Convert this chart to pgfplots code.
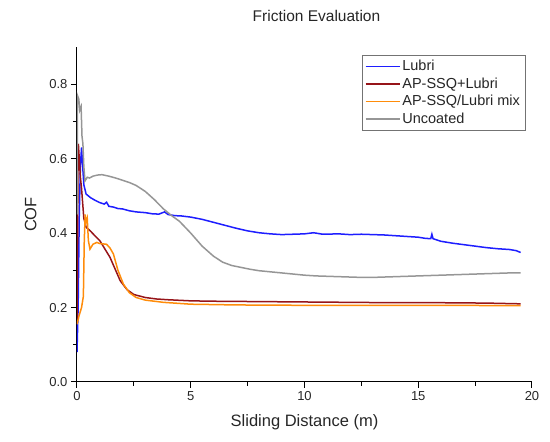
\documentclass[border=0pt]{standalone}
\usepackage{fontspec}
\setmainfont{Liberation Sans}
\usepackage{pgfplots}
\pgfplotsset{compat=1.18}
\definecolor{cblue}{RGB}{30,30,255}
\definecolor{cred}{RGB}{150,20,25}
\definecolor{corange}{RGB}{255,140,10}
\definecolor{cgray}{RGB}{150,150,150}
\begin{document}
\begin{tikzpicture}[x=1pt,y=1pt]
\useasboundingbox (0,0) rectangle (550,442);
\begin{axis}[
  at={(77pt,60pt)}, anchor=south west,
  scale only axis, width=455pt, height=335pt,
  xmin=0, xmax=20, ymin=0, ymax=0.9,
  axis x line=bottom, axis y line=left,
  axis line style={-, line width=1pt},
  xtick={0,5,10,15,20}, ytick={0,0.2,0.4,0.6,0.8},
  minor xtick={2.5,7.5,12.5,17.5}, minor ytick={0.1,0.3,0.5,0.7},
  tick align=outside,
  major tick length=6pt, minor tick length=4pt,
  every tick/.style={black, line width=1pt},
  yticklabel style={/pgf/number format/.cd, fixed, fixed zerofill, precision=1},
  /pgf/number format/assume math mode=true,
  tick label style={font=\fontsize{13}{15}\selectfont, text=black!85},
  xlabel={Sliding Distance (m)}, ylabel={COF},
  label style={font=\fontsize{16.5}{19}\selectfont, text=black!85},
  xlabel style={yshift=-7pt},
  ylabel style={yshift=6pt},
  title={Friction Evaluation},
  title style={font=\fontsize{15.5}{18}\selectfont, text=black!85, yshift=16pt, xshift=12pt},
  legend style={at={(rel axis cs:0.985,0.976)}, anchor=north east,
    draw=black!55, font=\fontsize{14.5}{17}\selectfont, text=black!85,
    inner xsep=3pt, inner ysep=3pt, row sep=1.5pt},
  legend cell align=left,
  legend image code/.code={\draw[#1] (0pt,0pt) -- (34pt,0pt);},
  every axis plot/.append style={line width=1.5pt},
]
\addplot[cblue] coordinates {
(0,0.08) (0.05,0.2) (0.1,0.45) (0.15,0.58) (0.2,0.63) (0.25,0.58) (0.3,0.53) (0.4,0.505) (0.6,0.495) (0.8,0.488) (1.0,0.482) (1.2,0.478) (1.3,0.483) (1.4,0.472) (1.6,0.470) (1.8,0.466) (2.0,0.465) (2.3,0.460) (2.6,0.457) (3.0,0.455) (3.3,0.452) (3.6,0.451) (3.85,0.457) (4.0,0.450) (4.3,0.447) (4.6,0.446) (5.0,0.443) (5.5,0.437) (6.0,0.429) (6.5,0.421) (7.0,0.413) (7.5,0.406) (8.0,0.401) (8.5,0.398) (9.0,0.396) (9.5,0.397) (10.0,0.398) (10.4,0.401) (10.8,0.397) (11.5,0.398) (12,0.396) (12.5,0.397) (13,0.396) (13.5,0.395) (14,0.393) (14.5,0.391) (15.0,0.389) (15.3,0.386) (15.55,0.385) (15.6,0.397) (15.65,0.385) (16.0,0.378) (16.5,0.373) (17.0,0.369) (17.5,0.365) (18.0,0.361) (18.5,0.358) (19.0,0.356) (19.3,0.353) (19.5,0.348)
};
\addlegendentry{Lubri}
\addplot[cred] coordinates {
(0,0.156) (0.02,0.35) (0.04,0.55) (0.06,0.64) (0.1,0.60) (0.15,0.55) (0.2,0.52) (0.25,0.48) (0.3,0.44) (0.4,0.416) (0.6,0.405) (0.8,0.392) (1.0,0.38) (1.2,0.36) (1.45,0.335) (1.7,0.30) (1.9,0.272) (2.2,0.248) (2.5,0.235) (3.0,0.227) (3.5,0.223) (4,0.221) (5,0.218) (6,0.217) (8,0.216) (10,0.215) (12,0.214) (14,0.213) (16,0.213) (18,0.212) (19.5,0.210)
};
\addlegendentry{AP-SSQ+Lubri}
\addplot[corange] coordinates {
(0,0.155) (0.1,0.18) (0.2,0.2) (0.28,0.23) (0.32,0.38) (0.36,0.45) (0.4,0.43) (0.45,0.44) (0.5,0.38) (0.57,0.357) (0.7,0.37) (0.87,0.375) (1.0,0.372) (1.3,0.37) (1.45,0.36) (1.6,0.344) (1.8,0.30) (2.04,0.263) (2.3,0.24) (2.6,0.227) (3.0,0.22) (3.8,0.214) (5,0.209) (7,0.207) (10,0.206) (13,0.206) (16,0.206) (19.5,0.205)
};
\addlegendentry{AP-SSQ/Lubri mix}
\addplot[cgray] coordinates {
(0,0.45) (0.02,0.77) (0.08,0.76) (0.12,0.73) (0.18,0.74) (0.22,0.66) (0.26,0.64) (0.3,0.58) (0.35,0.54) (0.45,0.55) (0.55,0.548) (0.7,0.553) (0.9,0.556) (1.1,0.557) (1.4,0.553) (1.7,0.548) (2.0,0.542) (2.3,0.536) (2.6,0.528) (3.0,0.512) (3.4,0.49) (3.8,0.465) (4.2,0.445) (4.5,0.432) (5.0,0.40) (5.5,0.365) (6.0,0.338) (6.4,0.322) (6.8,0.313) (7.2,0.308) (7.6,0.303) (8.0,0.299) (8.5,0.296) (9.0,0.293) (9.5,0.290) (10,0.287) (10.5,0.285) (11,0.284) (11.5,0.283) (12,0.282) (12.5,0.281) (13,0.281) (13.5,0.282) (14,0.283) (14.5,0.284) (15,0.285) (15.5,0.286) (16,0.287) (16.5,0.288) (17,0.289) (17.5,0.290) (18,0.291) (18.5,0.292) (19,0.293) (19.5,0.293)
};
\addlegendentry{Uncoated}
\end{axis}
\end{tikzpicture}
\end{document}
